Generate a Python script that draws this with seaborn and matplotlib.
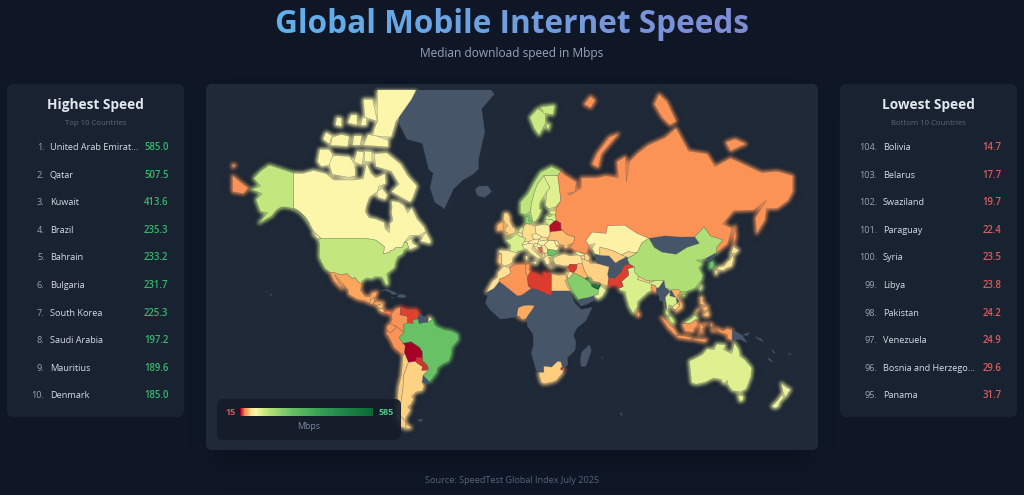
import numpy as np
import matplotlib
matplotlib.use("Agg")
import matplotlib.pyplot as plt
import seaborn as sns
from matplotlib.collections import PolyCollection
from matplotlib.patches import FancyBboxPatch

# ---------- ranking data ----------
TOP_RANKS = [1, 2, 3, 4, 5, 6, 7, 8, 9, 10]
TOP_NAMES = ["United Arab Emirat...", "Qatar", "Kuwait", "Brazil", "Bahrain", "Bulgaria",
             "South Korea", "Saudi Arabia", "Mauritius", "Denmark"]
TOP_SPEEDS = [585.0, 507.5, 413.6, 235.3, 233.2, 231.7, 225.3, 197.2, 189.6, 185.0]
LOW_RANKS = [104, 103, 102, 101, 100, 99, 98, 97, 96, 95]
LOW_NAMES = ["Bolivia", "Belarus", "Swaziland", "Paraguay", "Syria", "Libya", "Pakistan",
             "Venezuela", "Bosnia and Herzego...", "Panama"]
LOW_SPEEDS = [14.7, 17.7, 19.7, 22.4, 23.5, 23.8, 24.2, 24.9, 29.6, 31.7]

# ---------- colour scale ----------
STOP_SPEEDS = [15, 24, 34, 45, 58, 80, 105, 140, 235, 400, 585]
STOP_COLORS = ["#a50026", "#dc3d2d", "#fb9155", "#fdae61", "#fedc8e", "#fdf6ab", "#d9ef8b",
               "#b3e075", "#68c265", "#2a9450", "#0b6a38"]
NO_DATA = "#475569"

# ---------- outlines (lon, lat) ----------
CANADA = [(-141,69.6),(-135,69.5),(-128,70.2),(-120,69.5),(-115,68),(-108,68),(-102,68),(-96,68.3),(-94,71.8),(-91,69.5),(-88,68.5),(-82,69.5),(-81.5,67),(-86,66.5),(-87,65),(-92,63.5),(-94,61),(-94.8,59),(-92.5,57),(-88,56.5),(-82.5,55.2),(-82,52.9),(-79.5,51.3),(-79,52),(-79,54.8),(-77,56),(-78,58.6),(-77.5,60.5),(-78,62.4),(-73,62),(-70,61),(-67.5,58.5),(-65,60.3),(-61.5,56.5),(-57,53.5),(-56,51.8),(-60,50.2),(-66,50.2),(-70,47),(-65,49),(-64.5,47),(-61,45.5),(-66,44),(-67,45),(-67.8,47.1),(-69.2,47.4),(-71,45),(-75,45),(-76.5,44),(-79,43.3),(-79,42.8),(-83,42),(-82.5,45.3),(-84.5,46.5),(-88,48.2),(-95,49),(-123,49),(-125,50),(-128,52),(-130.5,54.7),(-133,57),(-137,59),(-141,60.2)]
BAFFIN = [(-61.5,66.5),(-64.5,63),(-66,62),(-72,63.5),(-78,65),(-73,67),(-78,70),(-88,71),(-89,73.5),(-81,73.7),(-72,71.5),(-67.5,69)]
VICTORIA_I = [(-118,71.5),(-116,69.3),(-105,68.6),(-101,69),(-101.5,71.5),(-105,73),(-114,73.2),(-118,72.8)]
BANKS_I = [(-125.5,72),(-123,71),(-118,71.3),(-115.5,73.3),(-118,74.3),(-124,74.3)]
ELLESMERE = [(-90,76.5),(-78,76.3),(-75,78.5),(-65,81),(-60,82.5),(-75,83),(-87,82),(-87,78.5),(-89,77.5)]
DEVON_I = [(-96,75),(-80,74.7),(-80,75.8),(-88,76.5),(-93,76.7)]
MELVILLE_I = [(-117,75),(-106,74.8),(-105,76.4),(-110,76.7),(-116,76.3)]
PRINCE_PATRICK_I = [(-122,76),(-118,75.2),(-116,76.5),(-120,77)]
BORDEN_I = [(-114,78),(-110,77.8),(-110,78.9),(-113,79)]
RINGNES_I = [(-106,78.3),(-100,78),(-100,79.3),(-104,79.3)]
AMUND_I = [(-98,78),(-94,78),(-94,79),(-97,79)]
BATHURST_I = [(-103,75),(-98,75),(-97,76.5),(-102,76.5)]
PRINCE_WALES_I = [(-102,72),(-97,71.3),(-95.5,73.8),(-100,74)]
SOMERSET_I = [(-95.5,72),(-90.5,72),(-90.5,73.9),(-95,74)]
AXEL_I = [(-95,79),(-87,78.5),(-90,81),(-96,81)]
SOUTHAMPTON_I = [(-87,63.5),(-82,62.7),(-80.5,64),(-84,66),(-87,65)]
NEWFOUNDLAND = [(-59.3,47.7),(-53,46.7),(-52.8,48),(-55.8,51.5),(-57.5,50)]
VANCOUVER_I = [(-128.3,50.7),(-125,48.8),(-123.4,48.4),(-125,50.2)]
USA = [(-124.7,48.4),(-123,49),(-95,49),(-88,48.2),(-84.5,46.5),(-82.5,45.3),(-83,42),(-79,42.8),(-79,43.3),(-76.5,44),(-75,45),(-71,45),(-69.2,47.4),(-67.8,47.1),(-67,45),(-70,43.7),(-70.7,42),(-74,40.6),(-75.5,37.5),(-76,35),(-81,31.8),(-80,27),(-80.4,25.2),(-81.8,26),(-82.8,28),(-84,30),(-89,30.2),(-90,29),(-94,29.5),(-97.2,27.5),(-97.2,25.9),(-99.5,27.5),(-101.5,29.8),(-103,29),(-106.5,31.8),(-111,31.3),(-114.8,32.5),(-117.2,32.5),(-120.5,34.5),(-122.5,37.5),(-124.2,40.3),(-124.2,43),(-124,46.2)]
ALASKA = [(-141,69.6),(-148,70.4),(-156.5,71.3),(-162,70),(-166.5,68.4),(-162,66.5),(-168,65.6),(-161,64.5),(-165,62.8),(-162,59),(-157.5,58.7),(-163,55),(-155,57.5),(-152,59.5),(-149,60.5),(-145,60.5),(-139,59.7),(-135,58),(-131,55),(-130.5,54.7),(-133,57),(-137,59),(-141,60.2)]
HAWAII = [(-156,20.2),(-155,19.7),(-155.7,19)]
OAHU = [(-158.3,21.5),(-157.7,21.6),(-157.8,21.2)]
MEXICO = [(-117.2,32.5),(-114.8,32.5),(-111,31.3),(-106.5,31.8),(-103,29),(-101.5,29.8),(-99.5,27.5),(-97.2,25.9),(-97.8,22.3),(-95,18.6),(-91.5,18.5),(-90.5,21),(-87,21.5),(-88,18.5),(-89,17.9),(-91,17.2),(-92,14.6),(-95,16),(-100,17),(-105.5,20),(-105.5,22.5),(-109,26),(-112.5,29.5),(-114.7,31.5),(-112,27),(-109.5,23),(-112,25),(-115,28)]
GUATEMALA = [(-92,14.6),(-91,17.2),(-89,17.9),(-89,15.9),(-88.2,15.7),(-89.5,14.2),(-90.5,13.9)]
HONDURAS = [(-89,15.9),(-83.2,15),(-84.5,14),(-87.5,13),(-89.5,14.2),(-88.2,15.7)]
NICARAGUA = [(-87.5,13),(-84.5,14),(-83.2,15),(-83.6,11),(-85.7,11.1)]
COSTA_RICA = [(-85.7,11.1),(-83.6,11),(-82.6,9.5),(-83,8.2),(-85.7,10)]
PANAMA = [(-83,8.2),(-82.6,9.5),(-79.5,9.5),(-77.3,8.6),(-77.9,7.2),(-80,7.4),(-81,8)]
CUBA = [(-85,21.9),(-81,23.1),(-75,20.8),(-74.2,20.2),(-77.7,19.9),(-78,20.7),(-82,22.4)]
HISPANIOLA = [(-74.4,18.5),(-72.8,19.9),(-70,19.8),(-68.4,18.6),(-71,17.8)]
JAMAICA = [(-78.3,18.3),(-76.3,18.1),(-77,17.8)]
COLOMBIA = [(-77.3,8.6),(-75,11),(-72,12.2),(-72,9.5),(-72.5,7.3),(-67.5,6.2),(-67.5,2),(-70,1),(-69.9,-4.2),(-72,-2.4),(-75.2,-0.1),(-78.8,1.4),(-77.5,4),(-77.9,7.2)]
VENEZUELA = [(-72,12.2),(-68,10.6),(-62,10.7),(-60,8.5),(-61,5),(-64,4),(-64,1.5),(-67.5,2),(-67.5,6.2),(-72.5,7.3),(-72,9.5)]
GUYANA = [(-60,8.5),(-57.2,6),(-58,2),(-60,1.3),(-61,4.5),(-61,5)]
SURINAME = [(-57.2,6),(-54,5.9),(-54.5,2.3),(-58,2)]
FRENCH_GUIANA = [(-54,5.9),(-51.5,4.3),(-54.5,2.3)]
ECUADOR = [(-80.3,-3.4),(-81,-1),(-80,0.8),(-78.8,1.4),(-75.2,-0.1),(-75.5,-1.5),(-78.5,-4.5)]
PERU = [(-81.3,-4.5),(-80.3,-3.4),(-78.5,-4.5),(-75.5,-1.5),(-75.2,-0.1),(-72,-2.4),(-69.9,-4.2),(-73,-7.3),(-70.5,-11),(-69,-12.5),(-69.5,-17.3),(-70.4,-18.3),(-76,-14),(-79,-8)]
BOLIVIA = [(-70.5,-11),(-65.3,-10),(-60,-13.5),(-58,-16.3),(-58,-19.8),(-62.5,-22),(-67,-22.8),(-69.5,-17.3),(-69,-12.5)]
BRAZIL = [(-70,1),(-67.5,2),(-64,1.5),(-64,4),(-61,4.5),(-60,1.3),(-58,2),(-54.5,2.3),(-51.5,4.3),(-50,0.5),(-48,-0.8),(-44,-2.5),(-40,-3),(-35.2,-5.3),(-35,-9),(-39,-13.5),(-39.5,-18),(-41,-22),(-45,-23.7),(-48.5,-26),(-48.7,-28.5),(-52,-32.2),(-53.5,-33.7),(-57.6,-30.2),(-54,-27),(-54.5,-25.5),(-55.5,-24),(-58,-22),(-58,-16.3),(-60,-13.5),(-65.3,-10),(-70.5,-11),(-73,-7.3),(-69.9,-4.2)]
PARAGUAY = [(-62.6,-22.2),(-61.7,-19.6),(-58,-19.8),(-58,-22),(-55.5,-24),(-54.5,-25.5),(-55.5,-27.3),(-58.5,-27.3),(-57.7,-25.3),(-60,-24)]
URUGUAY = [(-57.6,-30.2),(-53.5,-33.7),(-55,-34.9),(-58.3,-34)]
CHILE = [(-70.4,-18.3),(-69.5,-17.3),(-67,-22.8),(-70,-30),(-70.5,-37),(-71.8,-44),(-72,-50),(-69,-52.2),(-68.5,-55),(-72,-54),(-75,-50),(-74,-44),(-73.5,-37),(-71.5,-30)]
ARGENTINA = [(-67,-22.8),(-62.6,-22.2),(-60,-24),(-57.7,-25.3),(-58.5,-27.3),(-55.5,-27.3),(-54,-27),(-57.6,-30.2),(-58.3,-34),(-57,-36),(-58,-38.3),(-62,-39),(-65,-41),(-63.8,-42.5),(-65.5,-45),(-67.5,-46),(-65.8,-47.5),(-69,-51),(-69,-52.2),(-72,-50),(-71.8,-44),(-70.5,-37),(-70,-30)]
FUEGO = [(-68.5,-53),(-68.5,-55),(-65.2,-54.7)]
FALKLANDS = [(-61,-51.5),(-58,-51.4),(-59,-52.3)]
GREENLAND = [(-73,78.2),(-68,76),(-58,75.3),(-54,70.5),(-51,69.5),(-53,66),(-50,62),(-44,60),(-42,62),(-38,65.8),(-32,68),(-25,69.5),(-22,70.5),(-22,72.5),(-20,75),(-18,77),(-20,80),(-12,81.5),(-20,83),(-35,83.6),(-60,82.2),(-65,81),(-73,79)]
ICELAND = [(-24,65.5),(-22,66.4),(-16,66.5),(-13.7,65),(-18,63.4),(-22.5,63.9)]
SVALBARD_W = [(11,79),(16,80),(21,79.5),(21,78.2),(17,76.6),(14,77.5)]
SVALBARD_E = [(18,80.2),(27,80.4),(26,79.3),(20,79.5)]
SVALBARD_S = [(21,78),(24,78.2),(23,77.3)]
UK = [(-5.5,50),(1.3,51.2),(1.7,52.8),(0,53.5),(-1.7,55.5),(-2,57.5),(-3.5,58.6),(-5.5,58.5),(-6,56.5),(-4.8,55),(-3,54),(-4.5,53.2),(-5,51.8),(-3,51.3)]
IRELAND = [(-10,52),(-6,52.2),(-6,55.2),(-8.5,55),(-10,54)]
NORWAY = [(5,58.5),(5,62),(10,64.5),(14,67.5),(18,69.8),(25,71),(31,70),(29,69),(25,69),(20,69),(16,67),(14,65),(12,61.5),(11.5,59),(8,58)]
SWEDEN = [(11.5,59),(12,61.5),(14,65),(16,67),(20,69),(24,66),(22,65),(17.5,62),(17,60),(18.5,59.5),(16.5,57),(14.5,55.5),(13,55.5)]
FINLAND = [(20,69),(25,69),(29,69),(31,62.5),(27.5,60.5),(23,60),(21,61),(22,65),(24,66)]
DENMARK = [(8.3,54.9),(8.1,57),(10.6,57.7),(10.3,55.5),(12.5,56),(12,54.8),(9.8,54.8)]
ESTONIA = [(23.5,59.2),(28,59.5),(27.5,57.8),(25,58),(24.4,58.3)]
LATVIA = [(21,56.4),(21.7,57.6),(24.4,57.3),(25,58),(27.5,57.8),(28,56),(26.6,55.6),(25,56.3)]
LITHUANIA = [(21,55.3),(21,56.4),(25,56.3),(26.6,55.6),(23.5,53.9),(22.8,54.3)]
BELARUS = [(23.5,53.9),(23.8,52),(24,51.6),(32,52.2),(31,53),(31,55),(28,56),(26.6,55.6)]
POLAND = [(14.2,53.9),(19,54.4),(22.8,54.3),(23.5,53.9),(23.8,52),(24,50.5),(22.5,49.1),(19,49.5),(15,51)]
GERMANY = [(6,51),(7,53.5),(9,54.8),(14.2,53.9),(15,51),(12.2,50.3),(13.7,48.6),(10,47.4),(7.6,47.6),(8.2,49),(6.2,49.5)]
NETHERLANDS = [(3.4,51.4),(4.8,53),(7,53.5),(6,51)]
BELGIUM = [(2.5,51),(3.4,51.4),(6,51),(6.2,49.5),(4,50)]
FRANCE = [(2.5,51),(4,50),(6.2,49.5),(8.2,49),(7.6,47.6),(6,46.2),(7.5,44),(3,43.2),(3,42.4),(-1.7,43.3),(-1.2,46),(-4.7,48.4),(-1.5,48.7)]
SPAIN = [(-1.7,43.3),(3,42.4),(0,40),(-0.3,38),(-2,36.8),(-5.5,36),(-7.4,37.2),(-7,41.9),(-9.2,43.2),(-8,43.8)]
PORTUGAL = [(-9.5,38.7),(-8.8,41.8),(-7,41.9),(-7.4,37.2),(-8.9,37)]
ITALY = [(7.5,44),(6,46.2),(10.5,46.8),(13.7,46.5),(12.3,44.5),(16,41.8),(18.4,40),(16.5,39.8),(16,38),(15.7,40),(11,42.5),(8.8,44.4)]
SICILY = [(12.5,38),(15.6,38.2),(15,36.7)]
SARDINIA = [(8.2,41),(9.7,41),(9.5,39),(8.5,39)]
SWITZERLAND = [(6,46.2),(7.6,47.6),(10,47.4),(10.5,46.8)]
AUSTRIA = [(10,47.4),(13.7,48.6),(17,48.7),(16.2,46.8),(13.7,46.5),(10.5,46.8)]
CZECHIA = [(12.2,50.3),(15,51),(18.8,49.5),(17,48.7),(13.7,48.6)]
SLOVAKIA = [(17,48.7),(18.8,49.5),(22.5,49.1),(22,48.3),(18,47.8)]
HUNGARY = [(16.2,46.8),(17,48.7),(18,47.8),(22,48.3),(22.8,47.9),(20.3,46.1),(18,45.8)]
SLOVENIA = [(13.7,46.5),(16.2,46.8),(15.5,45.5),(13.6,45.5)]
CROATIA = [(13.6,45.5),(15.5,45.5),(16.2,46.8),(18,45.8),(19,45),(16,44.9),(18.5,42.5),(15,44.3)]
BOSNIA = [(16,44.9),(19,45),(19.3,43.3),(18.5,42.5)]
SERBIA = [(19,45),(18,45.8),(20.3,46.1),(22.5,44.3),(22.5,42.5),(20.5,42.3),(19.3,43.3)]
ALBANIA = [(19.3,42),(20.5,42.3),(20.9,40.5),(19.5,40)]
MACEDONIA = [(20.5,42.3),(22.5,42.3),(23,41.2),(20.9,40.9)]
GREECE = [(20,39.5),(21,40.8),(26,41.3),(26.2,40.9),(23,40.3),(24,38),(23,36.5),(21.5,37)]
CRETE = [(23.6,35.6),(26.3,35.3),(24,35)]
BULGARIA = [(22.5,44.3),(28.5,43.6),(27.8,42),(26,41.3),(23,41.3),(22.5,42.3)]
ROMANIA = [(20.3,46.1),(22.8,47.9),(26.5,48.2),(28.2,45.5),(29.6,45),(28.5,43.6),(22.5,44.3)]
MOLDOVA = [(26.5,48.2),(29,47.8),(30,46.3),(28.2,45.5)]
UKRAINE = [(22.5,49.1),(24,50.5),(24,51.6),(32,52.2),(35,50.5),(40,49.5),(39,47),(35,46),(36.5,45.3),(33.5,44.5),(33,46),(30.5,46.3),(29.6,45),(28.2,45.5),(30,46.3),(29,47.8),(26.5,48.2),(22.8,47.9)]
TURKEY = [(26.3,38.5),(26.3,40),(29,41.1),(33,42),(37,41),(41.5,41.5),(43.5,41),(44.5,39.5),(44.8,37.2),(42.5,37.2),(41.3,36.7),(36.7,36.8),(36,36),(32.5,36),(30.5,36.5),(28,36.7),(27.3,37.2)]
GEORGIA = [(40,43.5),(46,41.8),(46,41.2),(43.5,41),(41.5,41.5)]
ARMENIA = [(43.5,41),(46,41),(46.5,39),(44.8,39.7)]
AZERBAIJAN = [(46,41.8),(47.5,42),(49.5,40.5),(48.9,38.4),(46.5,39),(46,41)]
RUSSIA = [(28,60),(31,62.5),(29,69),(31,70),(33,69.3),(41,67.5),(40,65),(35,64.5),(37,64),(44,66),(44,68.5),(54,68.5),(60,69),(68,68.5),(67,72),(72.5,73),(73,67.5),(75,72),(80,73.5),(87,75),(98,76.2),(105,77.6),(113,74),(125,73.5),(130,71),(140,72.7),(160,69.7),(170,70),(180,69),(180,65),(177,62.5),(170,60),(163,60),(162,56),(156.7,51),(156,57),(163,62.5),(155,59.5),(142,59.3),(135,54.7),(141,53),(138,46.5),(131,42.6),(131,45),(135,48.3),(127,50),(123,53.5),(117,49.6),(108,49.5),(98,50),(87.5,49),(80,51),(72,54.2),(61,54),(60,51),(51,51.5),(47,48),(49,46),(47.5,42),(40,43.5),(37,45),(39,47),(40,49.5),(35,50.5),(32,52.2),(31,53),(31,55),(28,56),(27.5,57.8)]
CHUKOTKA_E = [(-180,69),(-175,67.5),(-170,66),(-173,64.5),(-180,65)]
WRANGEL = [(-180,71.5),(-178,71.3),(-180,70.8)]
NOVAYA_ZEMLYA = [(51,71.5),(55,70.8),(57,73.5),(68,76.8),(62,76.3),(54,73.5)]
SEVERNAYA_ZEMLYA = [(91,80.5),(94,81.5),(99,80.8),(105,78.5),(101,78),(96,79)]
FRANZ_JOSEF = [(46,80.5),(50,81.3),(53,80.9),(50,80.1)]
NEW_SIBERIA = [(137,75.5),(143,76),(150,75.2),(146,74.8),(140,74)]
SAKHALIN = [(142,46),(143.5,49.5),(143,54),(142,50)]
KAZAKHSTAN = [(51,51.5),(60,51),(61,54),(72,54.2),(80,51),(87.5,49),(83,47),(80,42.5),(74,43),(70,41.5),(66,43),(60,44.5),(56,45),(56,41.3),(53,42),(51,44.5),(53,46.8),(49,46),(47,48)]
UZBEKISTAN = [(56,45),(60,44.5),(66,43),(70,41.5),(73,40.5),(68,38.5),(66,37.5),(62,41),(56,41.3)]
TURKMENISTAN = [(53,42),(56,41.3),(62,41),(66,37.5),(62,35.5),(54,37.3),(53,40)]
KYRGYZSTAN = [(70,41.5),(74,43),(80,42.5),(75,40.4),(73,40.5)]
TAJIKISTAN = [(68,38.5),(73,40.5),(75,39.5),(74.5,37),(71,38),(68,37)]
MONGOLIA = [(87.5,49),(98,50),(108,49.5),(117,49.6),(120,46.8),(112,45),(105,41.8),(96,42.8),(91,45)]
CHINA = [(73.6,39.5),(80,42.5),(83,47),(87.5,49),(91,45),(96,42.8),(105,41.8),(112,45),(120,46.8),(117,49.6),(123,53.5),(127,50),(135,48.3),(131,45),(131,42.6),(124.5,40),(121,39),(118,39),(122,37),(119.5,35),(122,31),(121.5,28.5),(117,23.5),(111,21.5),(108,21.6),(106,23),(102,22.4),(98,24),(97.5,28.2),(92,28),(86,28),(81,30.2),(78.5,32.5),(78,35.5),(75,37)]
HAINAN = [(108.7,19.3),(110.5,20.1),(111,19.5),(109.5,18.2)]
TAIWAN = [(121,25),(122,25),(120.8,22),(120.1,23)]
NORTH_KOREA = [(124.5,40),(131,42.6),(129.7,41),(127.5,39.5),(128.3,38.6),(126.7,37.8),(125,38)]
SOUTH_KOREA = [(126.7,37.8),(128.3,38.6),(129.4,37),(129.2,35.2),(126.4,34.4),(126.5,36.5)]
HONSHU = [(130.9,34),(132.5,35.5),(136,36),(137,37.3),(140,39.5),(141.3,41.4),(142,39.5),(140.8,35.8),(137,34.6),(135.5,33.5),(132.5,34)]
HOKKAIDO = [(140,41.5),(141.8,45.4),(145.3,43.7),(143,42),(141,42.5)]
KYUSHU = [(130,33.5),(131.7,33.7),(131,31.2),(130.2,31.3)]
INDIA = [(74,34.5),(78,35.5),(78.5,32.5),(81,30.2),(80.2,28.7),(88,26.5),(89,27),(92,28),(97,28),(94,24),(92.3,23.7),(91.8,25),(89,26),(89,22),(87,21.3),(80.3,15.5),(80,12),(77.5,8),(75,12),(72.8,19),(72.5,21.5),(69,22.3),(68.2,23.7),(71,24.5),(70,27.5),(74.5,31)]
PAKISTAN = [(61,25),(61.5,29.5),(66,29.5),(70,33),(71.5,36),(74.5,37),(78,35.5),(74,34.5),(74.5,31),(70,27.5),(71,24.5),(68.2,23.7),(66.5,25.3)]
AFGHANISTAN = [(61,31.5),(61.5,35),(62,35.5),(66,37.5),(71,38),(74.5,37),(71.5,36),(70,33),(66,29.5),(61.5,29.5)]
IRAN = [(44.5,39.5),(48.5,38.5),(50,37.3),(54,37.3),(62,35.5),(61,31.5),(61.5,29.5),(61,25),(57,25.8),(56,27),(52,27.5),(50,30),(48.5,30),(46,33.5),(44.5,37.5)]
IRAQ = [(42.5,37.2),(44.5,37.5),(46,33.5),(48.5,30),(47.5,29.5),(46.5,29),(42,31.2),(39,32.3),(41,34.5),(41.3,36.7)]
SYRIA = [(36,36),(36.7,36.8),(41.3,36.7),(41,34.5),(39,32.3),(36.5,33),(35.8,34.7)]
SAUDI_ARABIA = [(34.8,29),(36.5,29.5),(39,32.3),(42,31.2),(46.5,29),(48.2,28),(50,26.5),(51,24.5),(55.2,22.7),(55,20),(52,19),(48.5,18),(43,17),(42.5,16.5),(39,21),(36,26)]
JORDAN = [(35,29.5),(36.5,29.5),(39,32.3),(36.5,33),(35.6,32.5)]
ISRAEL = [(34.3,31.3),(35,33),(35.6,32.5),(35,29.5)]
LEBANON = [(35.1,33.1),(36,34.6),(36.5,34),(35.8,33.2)]
KUWAIT = [(46.5,29),(47.7,30.1),(48.4,28.5)]
QATAR = [(50.8,24.7),(50.8,26.1),(51.6,25.8),(51.5,24.6)]
UAE = [(51.5,24.2),(54,24.1),(56.3,26.2),(56.4,24.9),(55.2,22.7)]
OMAN = [(55.2,22.7),(56.4,24.9),(58.6,23.6),(59.8,22.5),(57.8,19),(55,17),(52,19),(55,20)]
YEMEN = [(43,17),(42.5,15),(43.5,12.7),(48,14),(53,16.6),(52,19),(48.5,18)]
BANGLADESH = [(89,26),(91.8,25),(92.3,23.7),(92.3,21),(90,22),(89,22)]
NEPAL = [(80.2,28.7),(81,30.2),(86,28),(88,27.8),(88,26.5)]
SRI_LANKA = [(80,9.7),(81.8,7.5),(81,6),(80,6.2)]
MYANMAR = [(92.3,21),(92.3,23.7),(94,24),(97,28),(98,24),(101,21.5),(98,18),(99,12),(98.5,10),(97.5,16.5),(94.5,16),(94,19)]
THAILAND = [(98,18),(101,21.5),(101,19),(105,18),(105.5,14.4),(103,12.5),(100.5,13.5),(99.5,10),(100.5,7),(102,6),(100,6.5),(98.3,8),(99,12)]
LAOS = [(101,21.5),(102,22.4),(104,19),(107,16),(105.5,14.4),(105,18),(101,19)]
CAMBODIA = [(103,12.5),(105.5,14.4),(107.5,13),(105,10.5),(103,11)]
VIETNAM = [(102,22.4),(106,23),(108,21.6),(105.7,19),(109,14),(109,11.5),(105,8.7),(105,10.5),(107.5,13),(107,16),(104,19)]
MALAYA = [(100,6.5),(102,6),(103.5,4),(104,1.5),(101,3)]
SARAWAK = [(109.5,1.5),(115,5),(117,7),(119,5),(117.5,4),(115,2),(113,1.5)]
SUMATRA = [(95.3,5.6),(98,4),(104,-2),(106,-5.8),(104.5,-5.8),(100,-1.5)]
JAVA = [(105.5,-6.2),(111,-6.5),(114.5,-7.5),(114.5,-8.7),(106,-7.5)]
KALIMANTAN = [(109,0.5),(109.5,1.5),(113,1.5),(115,2),(117.5,4),(119,1),(116.5,-2),(116,-4),(111,-3.5),(110,-1.5)]
SULAWESI = [(119.5,-5.5),(120.5,-2.5),(120,1),(125,1.5),(121.5,0.5),(123,-1),(121.5,-2),(122.5,-5),(121,-3.5)]
HALMAHERA = [(127.5,2),(128.5,0.5),(128,-1),(127.3,0.5)]
SERAM = [(127.5,-3),(130.5,-3.2),(129,-3.6)]
PAPUA = [(131,-1),(135,-3.3),(138,-1.7),(141,-2.6),(141,-9),(138,-8),(138,-5.5),(133,-4)]
SUNDAS = [(115,-8.2),(119,-8.3),(125,-8.5),(123.5,-10.3),(117,-9)]
PNG = [(141,-2.6),(145,-4.5),(147.5,-6),(150.5,-10.5),(146,-8.5),(143,-9),(141,-9)]
NEW_BRITAIN = [(148,-5.6),(152,-4.2),(151,-6)]
SOLOMON = [(156,-7),(160,-8.5),(161,-10),(158,-8.5)]
VANUATU = [(166.5,-15),(167.5,-15.5),(168.5,-17.5),(167.5,-16.5)]
NEW_CALEDONIA = [(164,-20),(166.5,-21.5),(167,-22.4),(165,-21.5)]
FIJI = [(177.3,-17.5),(178.7,-17.7),(178,-18.3)]
LUZON = [(120.5,18.5),(122.2,18.3),(122,16),(124,13),(120.5,14)]
MINDANAO = [(122,7),(125.5,9.8),(126.5,7),(125,5.8)]
VISAYAS = [(122,11.8),(125.5,12.5),(125,10.2),(122.7,9.8)]
PALAWAN = [(117.2,8.4),(119.5,11.3),(119.7,10.5),(117.8,8.3)]
AUSTRALIA = [(113.5,-22),(114,-26),(115,-34.3),(118,-35),(123.5,-34),(129,-31.7),(134,-32.5),(135.5,-34.8),(138,-33),(138.5,-35.5),(141,-38.3),(146.3,-39),(150,-37.5),(153,-31),(153.5,-26),(149,-21),(146,-19),(145.3,-15),(142.5,-10.7),(141.5,-15),(140.8,-17.5),(135.5,-15),(136.8,-12),(131,-11.5),(129.5,-15),(125,-14.5),(122,-18),(117,-20.5)]
TASMANIA = [(144.7,-40.7),(148.3,-40.9),(148,-43),(146,-43.6)]
NZ_NORTH = [(172.7,-34.5),(175.5,-36.5),(178.5,-37.7),(177,-39.5),(175.3,-41.6),(173.8,-39.3)]
NZ_SOUTH = [(172.8,-40.5),(174.3,-41.7),(171.5,-44),(170.8,-45.9),(168.5,-46.6),(166.5,-45.8),(170.5,-43)]
MOROCCO = [(-17,21),(-13,27.7),(-9.8,29.8),(-9.5,32.5),(-6,35.8),(-2,35),(-1.2,32),(-5,30),(-8.7,28.7),(-8.7,27.5),(-12,23.5)]
ALGERIA = [(-8.7,27.5),(-8.7,28.7),(-5,30),(-1.2,32),(-2,35),(2,36.8),(8.6,36.9),(8,33),(9.5,30),(10,25),(12,23.5),(6,19.5),(3,19),(-5,25)]
TUNISIA = [(8.6,36.9),(11,37),(10.5,34),(11.5,33),(9.5,30),(8,33)]
LIBYA = [(11.5,33),(15,32.3),(19,30.4),(20,32.8),(25,31.7),(25,20),(24,19.5),(15,23),(12,23.5),(10,25),(9.5,30)]
EGYPT = [(25,31.7),(29,31),(34,31.2),(34.8,29),(33.5,28),(35.5,24),(37,22),(25,22)]
AFRICA_REST = [(-17,21),(-12,23.5),(-8.7,27.5),(-5,25),(3,19),(6,19.5),(12,23.5),(15,23),(24,19.5),(25,20),(25,22),(37,22),(37,21),(39.5,15),(43,11.5),(44,10.5),(51,11.8),(47,3.5),(41,-1.5),(39,-6),(40.5,-10),(40,-15.5),(35,-20),(35.5,-24),(32.9,-26),(31,-25),(29,-22),(25,-25.5),(20,-25),(20,-28.5),(17,-28.5),(15,-27),(12,-17),(13.5,-12),(13,-5),(9.5,0),(9,4),(4,6.3),(-3,5),(-8,4.5),(-13,9),(-15,11),(-17.5,14.7),(-16,19)]
NIGERIA = [(2.7,6.4),(4,6.3),(6,4.3),(8.5,4.6),(10,7),(13,11),(14,13),(10,13.3),(7,13),(3.6,11.7),(3,9)]
SOUTH_AFRICA = [(17,-28.5),(20,-28.5),(20,-25),(25,-25.5),(29,-22),(31,-22.5),(32,-26),(32.9,-26.5),(32,-29),(28,-33),(25,-34),(20,-34.8),(18.4,-34),(17,-30)]
SWAZILAND = [(30.9,-25.8),(32.1,-25.8),(32.1,-27.3),(30.9,-27.2)]
LESOTHO = [(27.5,-29.8),(29,-29),(29.3,-30),(28,-30.6)]
MADAGASCAR = [(49.3,-12),(50.5,-15.5),(47,-25),(44,-25),(43.5,-21),(44.5,-16.5)]
MAURITIUS = [(57.2,-20),(57.8,-20),(57.6,-20.6)]
KERGUELEN = [(69,-49),(70.5,-49),(70,-49.7)]

# shapes without a speed reading are painted in the no-data slate
NO_DATA_SHAPES = [GREENLAND, ICELAND, AFRICA_REST, MADAGASCAR, MONGOLIA, NORTH_KOREA, AFGHANISTAN,
                  TURKMENISTAN, MYANMAR, LAOS, YEMEN, CUBA, HISPANIOLA, JAMAICA, GUYANA, SURINAME,
                  URUGUAY, PNG, NEW_BRITAIN, SOLOMON, VANUATU, NEW_CALEDONIA, FIJI, HAWAII, OAHU,
                  LESOTHO, FALKLANDS, KERGUELEN, TAJIKISTAN, MAURITIUS]

MEASURED = [
    (CANADA, 80), (BAFFIN, 80), (VICTORIA_I, 80), (BANKS_I, 80), (ELLESMERE, 80), (DEVON_I, 80),
    (MELVILLE_I, 80), (PRINCE_PATRICK_I, 80), (BORDEN_I, 80), (RINGNES_I, 80), (AMUND_I, 80),
    (BATHURST_I, 80), (PRINCE_WALES_I, 80), (SOMERSET_I, 80), (AXEL_I, 80), (SOUTHAMPTON_I, 80),
    (NEWFOUNDLAND, 80), (VANCOUVER_I, 80), (USA, 125), (ALASKA, 125), (MEXICO, 42), (GUATEMALA, 44),
    (HONDURAS, 40), (NICARAGUA, 48), (COSTA_RICA, 52), (PANAMA, 31.7), (COLOMBIA, 35),
    (VENEZUELA, 24.9), (FRENCH_GUIANA, 60), (ECUADOR, 36), (PERU, 35), (BOLIVIA, 14.7),
    (BRAZIL, 235.3), (CHILE, 54), (ARGENTINA, 55), (PARAGUAY, 22.4), (FUEGO, 55), (SVALBARD_W, 120),
    (SVALBARD_E, 120), (SVALBARD_S, 120), (UK, 56), (IRELAND, 48), (NORWAY, 130), (SWEDEN, 105),
    (FINLAND, 100), (DENMARK, 185), (ESTONIA, 105), (LATVIA, 105), (LITHUANIA, 110),
    (BELARUS, 17.7), (POLAND, 72), (GERMANY, 58), (NETHERLANDS, 105), (BELGIUM, 66), (FRANCE, 105),
    (SPAIN, 68), (PORTUGAL, 52), (ITALY, 72), (SICILY, 72), (SARDINIA, 72), (SWITZERLAND, 78),
    (AUSTRIA, 70), (CZECHIA, 72), (SLOVAKIA, 64), (HUNGARY, 74), (SLOVENIA, 82), (CROATIA, 80),
    (BOSNIA, 29.6), (SERBIA, 66), (ALBANIA, 60), (MACEDONIA, 62), (GREECE, 70), (CRETE, 70),
    (BULGARIA, 231.7), (ROMANIA, 76), (MOLDOVA, 70), (UKRAINE, 50), (TURKEY, 62), (GEORGIA, 90),
    (ARMENIA, 60), (AZERBAIJAN, 56), (RUSSIA, 35), (CHUKOTKA_E, 35), (WRANGEL, 35),
    (NOVAYA_ZEMLYA, 35), (SEVERNAYA_ZEMLYA, 35), (FRANZ_JOSEF, 35), (NEW_SIBERIA, 35),
    (SAKHALIN, 35), (KAZAKHSTAN, 76), (UZBEKISTAN, 54), (KYRGYZSTAN, 56), (CHINA, 145),
    (HAINAN, 145), (TAIWAN, 100), (SOUTH_KOREA, 225.3), (HONSHU, 66), (HOKKAIDO, 66), (KYUSHU, 66),
    (INDIA, 105), (PAKISTAN, 24.2), (IRAN, 55), (IRAQ, 48), (SYRIA, 23.5), (SAUDI_ARABIA, 197.2),
    (JORDAN, 60), (ISRAEL, 62), (LEBANON, 40), (KUWAIT, 413.6), (QATAR, 507.5), (UAE, 585.0),
    (OMAN, 95), (BANGLADESH, 38), (NEPAL, 56), (SRI_LANKA, 40), (THAILAND, 108), (CAMBODIA, 60),
    (VIETNAM, 46), (MALAYA, 115), (SARAWAK, 115), (SUMATRA, 38), (JAVA, 38), (KALIMANTAN, 38),
    (SULAWESI, 38), (HALMAHERA, 38), (SERAM, 38), (PAPUA, 38), (SUNDAS, 38), (LUZON, 48),
    (MINDANAO, 48), (VISAYAS, 48), (PALAWAN, 48), (AUSTRALIA, 100), (TASMANIA, 100),
    (NZ_NORTH, 90), (NZ_SOUTH, 90), (MOROCCO, 62), (ALGERIA, 36), (TUNISIA, 38), (LIBYA, 23.8),
    (EGYPT, 54), (NIGERIA, 44), (SOUTH_AFRICA, 54), (SWAZILAND, 19.7),
]

# ---------- theme ----------
BG = "#0f1727"
sns.set_theme(style="dark", rc={"axes.grid": False, "figure.facecolor": BG, "savefig.facecolor": BG})
plt.rcParams["font.family"] = ["Open Sans", "DejaVu Sans"]

W, H = 1024, 495
fig = plt.figure(figsize=(W / 100, H / 100), dpi=100, facecolor=BG)
cmap = sns.blend_palette(STOP_COLORS, n_colors=512, as_cmap=True)


def speed_to_unit(v):
    return np.interp(v, STOP_SPEEDS, np.linspace(0, 1, len(STOP_SPEEDS)))


def pixel_axes(x0, y0, x1, y1, z):
    ax = fig.add_axes([x0 / W, 1 - y1 / H, (x1 - x0) / W, (y1 - y0) / H], zorder=z)
    ax.patch.set_alpha(0)
    return ax


def gaussian(a, sigma):
    r = int(3 * sigma)
    k = np.exp(-0.5 * (np.arange(-r, r + 1) / sigma) ** 2)
    k /= k.sum()
    for axis in (0, 1):
        a = sum(w * np.roll(a, i - r, axis=axis) for i, w in enumerate(k))
    return a


def make_blur(sigma, rgb=None, gain=1.0):
    pad = int(4 * sigma) + 1

    def flt(img, dpi):
        a = np.pad(img, ((pad, pad), (pad, pad), (0, 0)))
        pm = a[..., :3] * a[..., 3:4]
        alpha = gaussian(a[..., 3], sigma)
        out = np.zeros_like(a)
        if rgb is None:
            out[..., :3] = np.clip(gaussian(pm, sigma) / np.maximum(alpha[..., None], 1e-4), 0, 1)
        else:
            out[..., :3] = rgb
        out[..., 3] = np.clip(alpha * gain, 0, 1)
        return out, -pad, -pad
    return flt


def title_gradient(img, dpi):
    out = img.copy()
    t = np.linspace(0, 1, img.shape[1])[None, :, None]
    c0 = np.array([0x60, 0xb2, 0xec]) / 255
    c1 = np.array([0x80, 0x8c, 0xd4]) / 255
    out[..., :3] = c0 + (c1 - c0) * t
    return out, 0, 0


# ---------- backdrop panels ----------
back = pixel_axes(0, 0, W, H, 0)
back.set_xlim(0, W)
back.set_ylim(H, 0)
back.axis("off")


def panel(ax, x0, y0, x1, y1, color, r=6, **kw):
    p = FancyBboxPatch((x0, y0), x1 - x0, y1 - y0, boxstyle=f"round,pad=0,rounding_size={r}",
                       facecolor=color, edgecolor="none", **kw)
    ax.add_patch(p)
    return p


sh = panel(back, 212, 100, 812, 466, "#0a101c", r=10, alpha=0.75)
sh.set_agg_filter(make_blur(10))
panel(back, 7, 84, 184, 417, "#192230")
panel(back, 840, 84, 1017, 417, "#192230")
panel(back, 206, 84, 818, 450, "#1f2937")

# ---------- map ----------
K = 1.556
LON0_PX, EQ_PX = 512.7, 326.0


def merc(lat):
    lat = np.clip(np.asarray(lat, dtype=float), -85, 85)
    return np.degrees(np.log(np.tan(np.pi / 4 + np.radians(lat) / 2)))


def merc_inv(y):
    return 2 * np.degrees(np.arctan(np.exp(np.radians(np.asarray(y, dtype=float))))) - 90


MAP_TOP, MAP_BOT = 90, 450
m = pixel_axes(206, MAP_TOP, 818, MAP_BOT, 1)
m.set_yscale("function", functions=(merc, merc_inv))
m.set_xlim((206 - LON0_PX) / K, (818 - LON0_PX) / K)
m.set_ylim(merc_inv((EQ_PX - MAP_BOT) / K), merc_inv((EQ_PX - MAP_TOP) / K))
m.axis("off")

measured_polys = [np.array(s) for s, _ in MEASURED]
measured_cols = [cmap(float(speed_to_unit(v))) for _, v in MEASURED]

shadow = PolyCollection(measured_polys, facecolors="#0b1120", edgecolors="#0b1120", linewidths=3, zorder=1)
shadow.set_agg_filter(make_blur(3.0, rgb=np.array([0x0b, 0x11, 0x20]) / 255, gain=0.62))
m.add_collection(shadow)

glow = PolyCollection(measured_polys, facecolors=measured_cols, edgecolors=measured_cols, linewidths=2.2, zorder=2)
glow.set_agg_filter(make_blur(1.3, gain=0.95))
m.add_collection(glow)

slate = PolyCollection([np.array(s) for s in NO_DATA_SHAPES], facecolors=NO_DATA, edgecolors=NO_DATA,
                       linewidths=0.3, zorder=3)
m.add_collection(slate)

fills = PolyCollection(measured_polys, facecolors=measured_cols, edgecolors=(0.28, 0.32, 0.36, 0.45),
                       linewidths=0.4, zorder=4)
m.add_collection(fills)

# ---------- text & legend ----------
top = pixel_axes(0, 0, W, H, 2)
top.set_xlim(0, W)
top.set_ylim(H, 0)
top.axis("off")

ttl = top.text(512, 24.5, "Global Mobile Internet Speeds", ha="center", va="center", fontsize=22.7,
               fontweight="bold", color="#6fa0e0")
ttl.set_agg_filter(title_gradient)
top.text(512, 53, "Median download speed in Mbps", ha="center", va="center", fontsize=8.55, color="#94a3b8")
top.text(512, 480.5, "Source: SpeedTest Global Index July 2025", ha="center", va="center", fontsize=6.6, color="#56637a")


def ranking(cx, rank_x, name_x, val_x, title, sub, ranks, names, speeds, val_color):
    top.text(cx, 105.5, title, ha="center", va="center", fontsize=9.8, fontweight="bold", color="#e2e8f0")
    top.text(cx, 123.5, sub, ha="center", va="center", fontsize=5.6, color="#5b6779")
    for i, (r, n, s) in enumerate(zip(ranks, names, speeds)):
        y = 147.8 + i * 27.55
        top.text(rank_x, y, f"{r}.", ha="right", va="center", fontsize=6.6, color="#98a3b3")
        top.text(name_x, y, n, ha="left", va="center", fontsize=6.6, color="#d5dce6")
        top.text(val_x, y, f"{s:.1f}", ha="right", va="center", fontsize=6.9, fontweight="semibold", color=val_color)


ranking(95.5, 44.5, 50, 168.5, "Highest Speed", "Top 10 Countries", TOP_RANKS, TOP_NAMES, TOP_SPEEDS, "#37b76c")
ranking(928.5, 877.5, 883, 1001.5, "Lowest Speed", "Bottom 10 Countries", LOW_RANKS, LOW_NAMES, LOW_SPEEDS, "#db5c5f")

panel(top, 217, 399, 401, 440, "#151d2b", r=6, alpha=0.93)
top.text(230.5, 412.5, "15", ha="center", va="center", fontsize=6.4, fontweight="bold", color="#d9555a")
top.text(379, 412.5, "585", ha="left", va="center", fontsize=6.4, fontweight="bold", color="#4fc98a")
top.text(309, 426.5, "Mbps", ha="center", va="center", fontsize=6.3, color="#7c889b")

LEGEND_MIN, LEGEND_MAX = 15, 585
bar = pixel_axes(240, 408, 373, 416, 3)
ramp = speed_to_unit(np.linspace(LEGEND_MIN, LEGEND_MAX, 266))[None, :]
sns.heatmap(ramp, ax=bar, cmap=cmap, vmin=0, vmax=1, cbar=False, xticklabels=False, yticklabels=False)

fig.savefig("out.png", dpi=100, facecolor=BG)
